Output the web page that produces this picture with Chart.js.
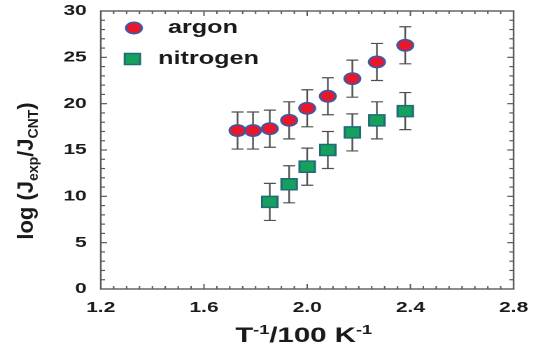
<!DOCTYPE html>
<html>
<head>
<meta charset="utf-8">
<script src="https://cdn.jsdelivr.net/npm/chart.js@4.4.1/dist/chart.umd.min.js"></script>
<style>
  html, body { margin: 0; background: #fff; }
  /* the original figure is stretched sideways, so the whole chart is too */
  #wrap { width: 383px; height: 345px; transform: scaleX(1.3995); transform-origin: 0 0; }
</style>
</head>
<body>
<div id="wrap"><canvas id="chart" width="383" height="345"></canvas></div>
<script>
const argonX = [1.73, 1.79, 1.855, 1.93, 2.0, 2.08, 2.175, 2.27, 2.38];
const argonY = [17.1, 17.1, 17.3, 18.2, 19.5, 20.8, 22.7, 24.5, 26.3];
const argonErr = [2, 2, 2, 2, 2, 2, 2, 2, 2];

const nitrogenX = [1.855, 1.93, 2.0, 2.08, 2.175, 2.27, 2.38];
const nitrogenY = [9.4, 11.3, 13.2, 15.0, 16.9, 18.2, 19.2];
const nitrogenErr = [2, 2, 2, 2, 2, 2, 2];

const xTicks = [1.2, 1.6, 2.0, 2.4, 2.8];
const yTicks = [0, 5, 10, 15, 20, 25, 30];

const FONT = '"Liberation Sans", Arial, Helvetica, sans-serif';
const STRETCH = 1.3995;

function points(xs, ys) {
  return xs.map((x, i) => ({ x: x, y: ys[i] }));
}

/* box with inward ticks, then error bars, all under the markers */
const errorBars = {
  id: "errorBars",
  beforeDatasetsDraw(chart) {
    const ctx = chart.ctx;
    const xs = chart.scales.x, ys = chart.scales.y;
    const left = xs.getPixelForValue(1.2), right = xs.getPixelForValue(2.8);
    const top = ys.getPixelForValue(30), bottom = ys.getPixelForValue(0);
    ctx.save();
    ctx.fillStyle = "#5a5a5a";
    ctx.fillRect(left - 0.6, top - 0.7, right - left + 1.2, 1.4);
    ctx.fillRect(left - 0.6, bottom - 0.7, right - left + 1.2, 1.4);
    ctx.fillRect(left - 0.6, top, 1.2, bottom - top);
    ctx.fillRect(right - 0.6, top, 1.2, bottom - top);
    for (let i = 1; i < 32; i++) {
      const px = xs.getPixelForValue(1.2 + i * 0.05);
      const len = i % 8 === 0 ? 5 : 3;
      ctx.fillRect(px - 0.5, bottom - len, 1, len);
      ctx.fillRect(px - 0.5, top, 1, len);
    }
    for (let i = 1; i < 30; i++) {
      const py = ys.getPixelForValue(i);
      const len = i % 5 === 0 ? 4.5 : 3;
      ctx.fillRect(left, py - 0.6, len, 1.2);
      ctx.fillRect(right - len, py - 0.6, len, 1.2);
    }

    ctx.strokeStyle = "#505050";
    ctx.lineWidth = 1.2;
    chart.data.datasets.forEach((ds, di) => {
      const meta = chart.getDatasetMeta(di);
      meta.data.forEach((pt, i) => {
        const v = ds.data[i].y;
        const e = ds.errors[i];
        const t = ys.getPixelForValue(v + e);
        const b = ys.getPixelForValue(v - e);
        ctx.beginPath();
        ctx.moveTo(pt.x, t); ctx.lineTo(pt.x, b);
        ctx.moveTo(pt.x - 4.3, t); ctx.lineTo(pt.x + 4.3, t);
        ctx.moveTo(pt.x - 4.3, b); ctx.lineTo(pt.x + 4.3, b);
        ctx.stroke();
      });
    });
    ctx.restore();
  }
};

/* legend and axis titles */
const labels = {
  id: "labels",
  afterDraw(chart) {
    const ctx = chart.ctx;
    ctx.save();
    const dsA = chart.data.datasets[0], dsN = chart.data.datasets[1];
    ctx.fillStyle = dsA.pointBackgroundColor;
    ctx.strokeStyle = dsA.pointBorderColor;
    ctx.lineWidth = 1.5;
    ctx.beginPath();
    ctx.arc(95.7, 28, 5.7, 0, Math.PI * 2);
    ctx.fill(); ctx.stroke();
    ctx.fillStyle = dsN.pointBackgroundColor;
    ctx.strokeStyle = dsN.pointBorderColor;
    ctx.beginPath();
    ctx.rect(94.6 - 5.5, 59 - 5.5, 11, 11);
    ctx.fill(); ctx.stroke();

    ctx.fillStyle = "#1a1a1a";
    ctx.font = "bold 18px " + FONT;
    ctx.textBaseline = "middle";
    ctx.textAlign = "left";
    ctx.fillText(dsA.label, 120, 28);
    ctx.fillText(dsN.label, 113, 59);

    // x title: T-1/100 K-1
    ctx.textBaseline = "alphabetic";
    const xParts = [["T", 0], ["-1", 1], ["/100 K", 0], ["-1", 1]];
    drawParts(ctx, xParts, 217, 342, 21, 13, -8);

    // y title: log (Jexp/JCNT), kept unstretched
    ctx.translate(23.6, 171);
    ctx.scale(1 / STRETCH, 1);
    ctx.rotate(-Math.PI / 2);
    const yParts = [["log (J", 0], ["exp", 1], ["/J", 0], ["CNT", 1], [")", 0]];
    drawParts(ctx, yParts, 0, 0, 22, 14, 5);
    ctx.restore();
  }
};

function drawParts(ctx, parts, cx, baseY, big, small, shift) {
  let total = 0;
  parts.forEach(p => {
    ctx.font = "bold " + (p[1] ? small : big) + "px " + FONT;
    total += ctx.measureText(p[0]).width;
  });
  let x = cx - total / 2;
  parts.forEach(p => {
    ctx.font = "bold " + (p[1] ? small : big) + "px " + FONT;
    ctx.fillText(p[0], x, baseY + (p[1] ? shift : 0));
    x += ctx.measureText(p[0]).width;
  });
}

new Chart(document.getElementById("chart"), {
  type: "scatter",
  data: {
    datasets: [
      {
        label: "argon",
        data: points(argonX, argonY),
        errors: argonErr,
        pointStyle: "circle",
        pointRadius: 5.7,
        pointHoverRadius: 5.7,
        pointBackgroundColor: "#e8182a",
        pointBorderColor: "#3a5aa8",
        pointBorderWidth: 1.5
      },
      {
        label: "nitrogen",
        data: points(nitrogenX, nitrogenY),
        errors: nitrogenErr,
        pointStyle: "rect",
        pointRadius: 7.8,
        pointHoverRadius: 7.8,
        pointBackgroundColor: "#15a05e",
        pointBorderColor: "#1f6b78",
        pointBorderWidth: 1.5
      }
    ]
  },
  options: {
    responsive: false,
    animation: false,
    devicePixelRatio: 2,
    events: [],
    layout: { padding: { top: 11, right: 16, left: 0, bottom: 0 } },
    plugins: { legend: { display: false }, tooltip: { enabled: false } },
    scales: {
      x: {
        type: "linear",
        min: 1.2,
        max: 2.8,
        afterFit: s => { s.height = 56; s.paddingLeft = 0; s.paddingRight = 0; },
        afterBuildTicks: s => { s.ticks = xTicks.map(v => ({ value: v })); },
        grid: { display: false, drawTicks: false },
        border: { display: false },
        ticks: {
          autoSkip: false,
          maxRotation: 0,
          padding: 10,
          color: "#1a1a1a",
          font: { family: FONT, size: 15, weight: "bold" },
          callback: v => v.toFixed(1)
        }
      },
      y: {
        min: 0,
        max: 30,
        afterFit: s => { s.width = 72; s.paddingTop = 0; s.paddingBottom = 0; },
        afterBuildTicks: s => { s.ticks = yTicks.map(v => ({ value: v })); },
        grid: { display: false, drawTicks: false },
        border: { display: false },
        ticks: {
          padding: 10,
          color: "#1a1a1a",
          font: { family: FONT, size: 15, weight: "bold" }
        }
      }
    }
  },
  plugins: [errorBars, labels]
});
</script>
</body>
</html>
